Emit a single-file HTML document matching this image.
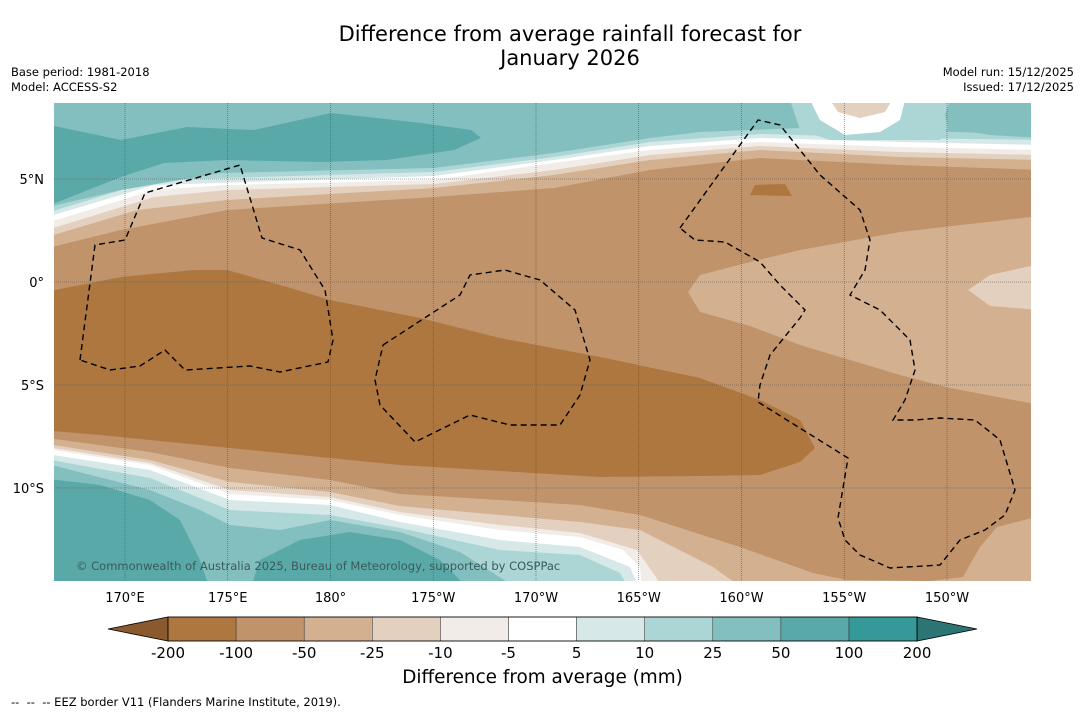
<!DOCTYPE html>
<html><head><meta charset="utf-8"><style>
body{margin:0;background:#fff;font-family:"DejaVu Sans","Liberation Sans",sans-serif;}
#wrap{position:relative;width:1085px;height:713px;overflow:hidden;background:#fff}
.t{position:absolute;font-size:11.5px;color:#000}
</style></head><body>
<div id="wrap">
<div class="t" style="left:0;width:1140px;top:22px;text-align:center;font-size:21px;line-height:24px">Difference from average rainfall forecast for<br>January 2026</div>
<div class="t" style="left:11px;top:65px;line-height:15px">Base period: 1981-2018<br>Model: ACCESS-S2</div>
<div class="t" style="right:11px;top:65px;line-height:15px;text-align:right">Model run: 15/12/2025<br>Issued: 17/12/2025</div>
<svg id="map" width="1085" height="713" style="position:absolute;left:0;top:0"></svg>
<div class="t" style="left:0;width:1085px;top:667px;text-align:center;font-size:18.4px">Difference from average (mm)</div>
<div class="t" style="left:11px;top:695px;font-size:11.5px">--&nbsp; --&nbsp; -- EEZ border V11 (Flanders Marine Institute, 2019).</div>
</div>
<script>
const bandColors=["#ad773f","#c0936a","#d3b08f","#e4d0bf","#f1ece7","#ffffff","#d6e9e8","#acd6d6","#84bfbf","#5aa9a9","#35999a"];
const cbTicks=["-200","-100","-50","-25","-10","-5","5","10","25","50","100","200"];
const lonLabels=["170°E","175°E","180°","175°W","170°W","165°W","160°W","155°W","150°W"];
const lonValues=[170,175,180,185,190,195,200,205,210];
const latLabels=["5°N","0°","5°S","10°S"];
const latValues=[5,0,-5,-10];
const NS="http://www.w3.org/2000/svg";
const FF='DejaVu Sans, Liberation Sans, sans-serif';
const svg=document.getElementById('map');
const X0=54,X1=1031,Y0=103,Y1=581;
const xLon=l=>125+(l-170)*20.55;
const yLat=a=>282-a*20.6;
function mk(tag,attrs,parent){const e=document.createElementNS(NS,tag);for(const k in attrs)e.setAttribute(k,attrs[k]);(parent||svg).appendChild(e);return e;}
const C=bandColors;
const cp=mk('clipPath',{id:'cp'});
mk('rect',{x:X0,y:Y0,width:X1-X0,height:Y1-Y0},cp);
const g=mk('g',{'clip-path':'url(#cp)'});


function poly(pts,fill,name){const p=mk('polygon',{points:pts.map(q=>q.join(',')).join(' '),fill:fill},g);}
function above(pts,fill,name){poly([[0,0],[0,pts[0][1]],...pts,[1100,pts[pts.length-1][1]],[1100,0]],fill,name);}
function below(pts,fill,name){poly([[0,pts[0][1]],...pts,[1100,pts[pts.length-1][1]],[1100,700],[0,700]],fill,name);}
poly([[X0,Y0],[X1,Y0],[X1,Y1],[X0,Y1]],C[1],'band-base');
// dark brown band
poly([[40,293],[121,277],[194,270],[227,270],[287,287],[330,300],[420,318],[500,338],[600,357],[700,378],[760,400],[800,420],[815,448],[800,462],[760,475],[700,476],[600,477],[500,471],[400,465],[300,455],[200,445],[100,435],[40,430]],C[0],'band-dark-brown');
poly([[750,195],[755,185],[785,184],[792,196]],C[0],'band-dark-brown-patch');
// right light tan
poly([[688,292],[700,275],[750,262],[800,250],[900,232],[1040,216],[1040,405],[950,388],[900,375],[850,360],[800,345],[750,326],[700,312]],C[2],'band-light-tan-right');
poly([[968,290],[990,275],[1040,264],[1040,310],[990,306]],C[3],'band-lighter-tan-right');
// top bands
above([[40,250],[121,230],[227,210],[434,197],[554,188],[650,170],[760,158],[900,165],[1040,170]],C[2],'top-band-m25');
above([[40,239],[137,210],[227,200],[434,188],[554,175],[650,160],[760,150],[900,157],[1040,160]],C[3],'top-band-m10');
above([[40,232],[154,197],[227,190],[434,184],[554,170],[650,155],[760,146],[900,152],[1040,155]],C[4],'top-band-m5');
above([[40,225],[154,190],[227,185],[434,180],[554,163],[650,150],[760,142],[900,147],[1040,150]],C[5],'top-band-white');
above([[40,219],[154,185],[434,176],[554,160],[650,146],[760,138],[900,142],[1040,145]],C[6],'top-band-5');
above([[40,215],[154,180],[434,172],[554,157],[650,142],[760,134],[900,138],[1040,140]],C[7],'top-band-10');
above([[40,209],[121,190],[221,173],[434,168],[554,153],[650,138],[700,132],[800,128],[900,130],[1040,135]],C[8],'top-band-25');
poly([[40,123],[121,140],[187,127],[254,130],[331,113],[421,123],[471,130],[481,138],[454,150],[387,160],[321,162],[227,160],[164,163],[121,177],[40,209]],C[9],'top-band-50');
poly([[790,100],[960,100],[950,125],[940,140],[830,140],[800,130]],C[7],'top-right-light-teal');
poly([[810,100],[905,100],[900,120],[880,132],[845,135],[820,120]],C[5],'top-right-white');
poly([[830,100],[892,100],[885,112],[860,118],[838,112]],C[3],'top-right-tan');
poly([[950,100],[1040,100],[1040,138],[990,135],[948,128],[945,115]],C[8],'top-right-teal');
// bottom bands
below([[40,437],[150,452],[230,468],[330,480],[400,494],[500,500],[580,505],[640,515],[740,547],[813,573],[847,580],[930,581],[963,577],[980,547],[997,527],[1040,516]],C[2],'bottom-band-m25');
below([[40,443],[150,460],[230,482],[330,492],[400,506],[500,515],[580,522],[640,530],[713,567],[745,590]],C[3],'bottom-band-m10');
below([[40,446],[150,463],[230,490],[330,497],[400,512],[500,525],[580,533],[637,550],[665,590]],C[4],'bottom-band-m5');
below([[40,448],[150,465],[230,494],[330,500],[400,515],[500,530],[580,537],[623,550],[640,567],[642,590]],C[5],'bottom-band-white');
below([[40,453],[150,470],[230,500],[330,505],[400,522],[500,540],[580,547],[630,567],[640,590]],C[6],'bottom-band-5');
below([[40,458],[150,478],[230,510],[330,515],[400,528],[500,550],[580,555],[620,573],[630,590]],C[7],'bottom-band-10');
below([[40,462],[150,490],[200,510],[230,525],[280,530],[330,520],[400,532],[460,552],[520,590]],C[8],'bottom-band-25');
poly([[40,478],[100,485],[150,500],[180,520],[200,560],[210,590],[40,590]],C[9],'bottom-band-50-left');
poly([[250,590],[260,560],[300,540],[350,532],[400,540],[440,560],[470,590]],C[9],'bottom-band-50-mid');
// gridlines
lonValues.forEach((l,i)=>{const x=xLon(l);const ln=mk('line',{x1:x,x2:x,y1:Y0,y2:Y1,stroke:'#555','stroke-width':0.6,'stroke-dasharray':'1 1'});

const t=mk('text',{x:x,y:602,'font-size':13,'text-anchor':'middle','font-family':FF});t.textContent=lonLabels[i];
});
latValues.forEach((a,i)=>{const y=yLat(a);const ln=mk('line',{x1:X0,x2:X1,y1:y,y2:y,stroke:'#555','stroke-width':0.6,'stroke-dasharray':'1 1'});

const t=mk('text',{x:44,y:y+5,'font-size':13,'text-anchor':'end','font-family':FF});t.textContent=latLabels[i];
});
// EEZ
const eez=[
[[80,360],[95,245],[125,240],[145,193],[240,165],[262,238],[300,250],[325,290],[333,340],[328,362],[280,372],[250,366],[185,370],[165,350],[140,366],[110,370],[80,360]],
[[383,345],[460,295],[470,275],[505,270],[540,280],[575,310],[590,360],[580,395],[560,425],[510,425],[470,415],[415,442],[380,405],[375,380],[383,345]],
[[680,228],[758,120],[780,125],[820,175],[860,210],[870,240],[865,270],[850,295],[880,310],[910,340],[915,370],[905,400],[893,420],[915,420],[940,418],[975,420],[1000,440],[1015,490],[1005,515],[985,530],[960,540],[940,565],[890,568],[860,555],[845,540],[838,518],[848,458],[758,402],[760,385],[770,355],[800,318],[805,310],[780,285],[760,262],[725,242],[695,240],[680,228]]];
eez.forEach(p=>{const e=mk('polyline',{points:p.map(q=>q.join(',')).join(' '),fill:'none',stroke:'#000','stroke-width':1.4,'stroke-dasharray':'6 4'});
});
const cr=mk('text',{x:76,y:570,'font-size':11.5,fill:'#3a5a5a','font-family':FF});cr.textContent='© Commonwealth of Australia 2025, Bureau of Meteorology, supported by COSPPac';

// colorbar
const cb=mk('g',{});
const bx0=168,bw=68.1,by=617,bh=24;
const l=mk('polygon',{points:`108,629 ${bx0},${by} ${bx0},${by+bh}`,fill:'#8a5a2e',stroke:'#000','stroke-width':0.8},cb);

bandColors.forEach((c,i)=>{const r=mk('rect',{x:bx0+i*bw,y:by,width:bw,height:bh,fill:c,stroke:'#333','stroke-width':0.5},cb);
});
const xe=bx0+bandColors.length*bw;
const rr=mk('polygon',{points:`${xe},${by} 977,629 ${xe},${by+bh}`,fill:'#2d7474',stroke:'#000','stroke-width':0.8},cb);

mk('rect',{x:bx0,y:by,width:xe-bx0,height:bh,fill:'none',stroke:'#000','stroke-width':0.8},cb);
cbTicks.forEach((s,i)=>{const t=mk('text',{x:bx0+i*bw,y:658,'font-size':15,'text-anchor':'middle','font-family':FF},cb);t.textContent=s;
});
</script>
</body></html>
